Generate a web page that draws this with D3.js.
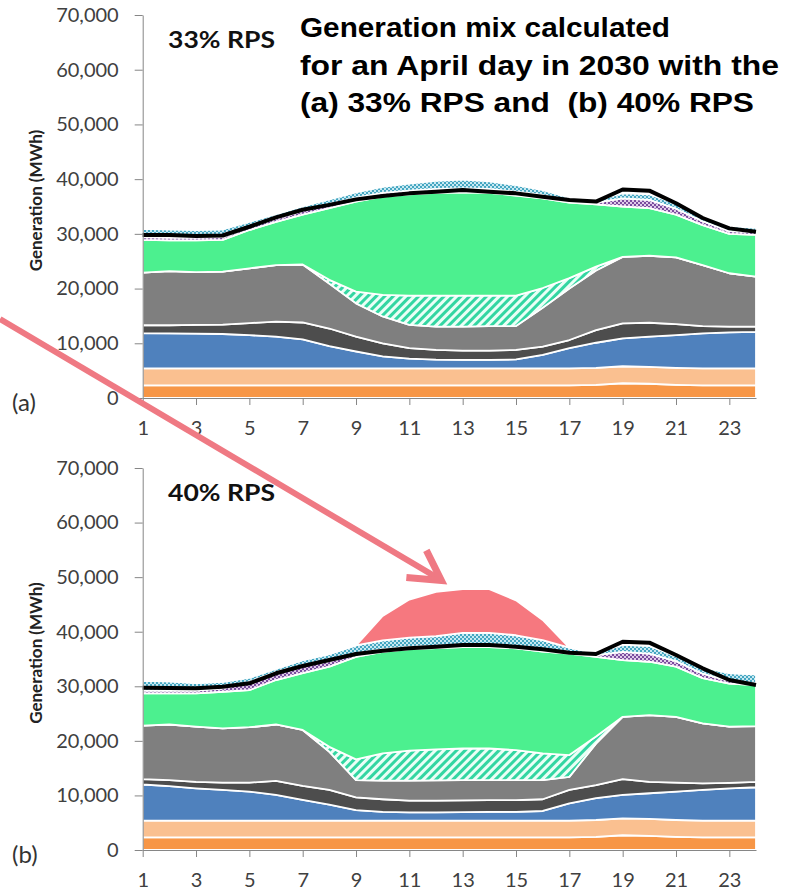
<!DOCTYPE html>
<html>
<head>
<meta charset="utf-8">
<script src="https://cdn.jsdelivr.net/npm/d3@7"></script>
<style>
  html, body { margin: 0; padding: 0; background: #fff; }
  svg { display: block; }
</style>
</head>
<body>
<script>
// Generation mix, April day 2030 — two stacked area panels (33% / 40% RPS)

const hours = [1,2,3,4,5,6,7,8,9,10,11,12,13,14,15,16,17,18,19,20,21,22,23,24];
const yTicks = [0,10000,20000,30000,40000,50000,60000,70000];
const xTicks = [1,3,5,7,9,11,13,15,17,19,21,23];

// ── (a) 33% RPS, MWh per layer, bottom → top ─────────────────
const orange33 = [2300,2300,2300,2300,2300,2300,2300,2300,2300,2300,2300,2300,2300,2300,2300,2300,2300,2400,2700,2600,2400,2300,2300,2300];
const peach33  = [3100,3100,3100,3100,3100,3100,3100,3100,3100,3100,3100,3100,3100,3100,3100,3100,3100,3100,3100,3100,3100,3100,3100,3100];
const blue33   = [6450,6400,6350,6300,6100,5800,5300,4100,3100,2200,1800,1600,1550,1550,1650,2500,3700,4600,5100,5500,6000,6400,6600,6700];
const dkgray33 = [1450,1500,1600,1700,2200,2750,3100,3200,2700,2400,1900,1800,1700,1700,1750,1500,1500,2300,2750,2550,2000,1350,1050,950];
const gray33   = [9600,9900,9650,9700,10000,10350,10600,8200,6100,4900,4250,4250,4400,4500,4350,7100,9400,10900,12150,12250,12200,11150,9750,9150];
const hatch33  = [0,0,0,0,0,0,0,700,2150,3950,5350,5650,5650,5550,5550,3600,1900,700,0,0,0,0,0,0];
const green33  = [6000,5600,5800,5800,7000,7900,9100,13100,16450,17950,18500,18800,18900,18800,18300,16400,13800,11400,9200,8700,7800,7300,7200,7600];
const purple33 = [500,500,500,500,500,600,700,700,700,700,700,700,700,700,700,600,300,300,1500,1500,1100,700,500,500];
const teal33   = [1500,1500,1400,1400,1000,800,800,900,1000,1100,1300,1500,1600,1400,1200,900,600,400,900,1000,900,700,900,800];
const load33   = [29800,29800,29600,29700,31300,33000,34400,35300,36300,36900,37400,37700,38000,37700,37400,36800,36200,35900,38100,37900,35600,32900,31000,30400];

// ── (b) 40% RPS ──────────────────────────────────────────────
const orange40 = [2300,2300,2300,2300,2300,2300,2300,2300,2300,2300,2300,2300,2300,2300,2300,2300,2300,2400,2700,2600,2400,2300,2300,2300];
const peach40  = [3100,3100,3100,3100,3100,3100,3100,3100,3100,3100,3100,3100,3100,3100,3100,3100,3100,3100,3100,3100,3100,3100,3100,3100];
const blue40   = [6600,6300,5900,5600,5300,4700,3800,2900,1900,1600,1500,1500,1550,1600,1600,1750,3150,4000,4300,4700,5200,5600,5900,6100];
const dkgray40 = [1000,1100,1200,1350,1650,2550,2550,2700,2350,2300,2150,2150,2150,2150,2150,2150,2450,2400,2900,2100,1650,1200,1000,1000];
const gray40   = [9800,10200,10100,9950,10150,10350,10250,7000,3150,3400,3650,3700,3700,3650,3650,3500,2400,7600,11400,12200,12050,11000,10300,10200];
const hatch40  = [0,0,0,0,0,0,0,900,3800,5000,5500,5700,5800,5800,5500,4900,4000,1300,0,0,0,0,0,0];
const green40  = [5900,5700,6100,6700,6800,8150,10400,14700,18800,18600,18600,18550,18600,18600,18650,18650,18600,14600,10400,9800,9200,8300,7900,7500];
const purple40 = [500,500,500,600,1500,1500,1400,1000,600,500,400,400,400,400,400,400,300,300,1500,1500,1000,800,500,300];
const teal40   = [1800,1700,1400,1200,800,600,1000,1300,1500,1600,1700,1800,2200,2200,2000,1700,800,400,1300,1400,900,1200,1400,1700];
const red40    = [0,0,0,0,0,0,0,0,0,4500,7000,8100,8000,8000,6400,3700,0,0,0,0,0,0,0,0];
const load40   = [29750,29700,29630,29930,30550,32380,33710,34820,35920,36530,36960,37260,37570,37570,37260,36770,36160,35920,38170,37990,35730,33290,31150,30240];

const titleLines = ['Generation mix calculated', 'for an April day in 2030 with the', '(a) 33% RPS and  (b) 40% RPS'];
const titleWidths = [370, 479, 454];

const FILL = {
  orange: '#f79646', peach: '#fac090', blue: '#4f81bd', dkgray: '#4d4d4d', gray: '#7f7f7f',
  hatch: 'url(#hatchGreen)', green: '#4cf08f', purple: 'url(#dotPurple)', teal: 'url(#dotTeal)', red: '#f6787f'
};
const AXIS = '#868686', LABEL = '#404040';

const svg = d3.select('body').append('svg').attr('width', 800).attr('height', 890);
const defs = svg.append('defs');

// ── Patterns ─────────────────────────────────────────────────
const hp = defs.append('pattern').attr('id', 'hatchGreen').attr('patternUnits', 'userSpaceOnUse')
  .attr('width', 6).attr('height', 6).attr('patternTransform', 'rotate(45)');
hp.append('rect').attr('width', 6).attr('height', 6).attr('fill', '#eafff6');
hp.append('rect').attr('width', 3).attr('height', 6).attr('fill', '#33d6a2');

function dots(id, bg, fg) {
  const p = defs.append('pattern').attr('id', id).attr('patternUnits', 'userSpaceOnUse').attr('width', 4).attr('height', 4);
  p.append('rect').attr('width', 4).attr('height', 4).attr('fill', bg);
  p.append('rect').attr('width', 2).attr('height', 2).attr('fill', fg);
  p.append('rect').attr('x', 2).attr('y', 2).attr('width', 2).attr('height', 2).attr('fill', fg);
}
dots('dotPurple', '#7a4c9e', '#e0cbe9');
dots('dotTeal', '#45a6c1', '#c8e9f2');

// ── One panel ────────────────────────────────────────────────
function drawPanel(p) {
  const x = d3.scaleLinear().domain([1, 24]).range([142.7, 756]);
  const y = d3.scaleLinear().domain([0, 70000]).range([p.bottom, p.top]);
  const keys = Object.keys(p.layers);
  const rows = hours.map((h, i) => {
    const r = { hour: h };
    keys.forEach(k => { r[k] = p.layers[k][i]; });
    return r;
  });
  const series = d3.stack().keys(keys)(rows);
  const g = svg.append('g');

  const area = d3.area().x(d => x(d.data.hour)).y0(d => y(d[0])).y1(d => y(d[1]));
  g.selectAll('.layer').data(series).enter().append('path')
    .attr('d', area)
    .attr('fill', d => FILL[d.key])
    .attr('stroke', '#fff').attr('stroke-width', 1.8).attr('stroke-linejoin', 'round');

  // load line
  g.append('path').datum(p.load)
    .attr('d', d3.line().x((d, i) => x(hours[i])).y(d => y(d)))
    .attr('fill', 'none').attr('stroke', '#000').attr('stroke-width', 4).attr('stroke-linejoin', 'round');

  // axes
  g.append('g').attr('transform', 'translate(142.7,0)')
    .call(d3.axisLeft(y).tickValues(yTicks).tickFormat(d3.format(',')).tickSize(8).tickSizeOuter(0).tickPadding(16))
    .call(a => {
      a.select('.domain').attr('stroke', AXIS);
      a.selectAll('line').attr('stroke', AXIS);
      a.selectAll('text').attr('font-family', 'Lato').attr('font-size', 20).attr('fill', LABEL);
    });
  g.append('g').attr('transform', `translate(0,${p.bottom})`)
    .call(d3.axisBottom(x).tickValues(xTicks).tickSize(7).tickSizeOuter(0).tickPadding(16))
    .call(a => {
      a.select('.domain').attr('stroke', AXIS);
      a.selectAll('line').attr('stroke', AXIS);
      a.selectAll('text').attr('font-family', 'Lato').attr('font-size', 20).attr('fill', LABEL);
    });

  // texts
  const mid = (p.top + p.bottom) / 2 - 6;
  g.append('text').attr('transform', `translate(42,${mid}) rotate(-90)`)
    .attr('text-anchor', 'middle').attr('font-family', 'Lato').attr('font-weight', 700)
    .attr('font-size', 17).attr('fill', '#222').text('Generation (MWh)');
  g.append('text').attr('x', 168).attr('y', p.top + 33)
    .attr('font-family', 'Lato').attr('font-weight', 700).attr('font-size', 23)
    .attr('textLength', 107).attr('lengthAdjust', 'spacingAndGlyphs').attr('fill', '#111').text(p.label);
  g.append('text').attr('x', 12).attr('y', p.bottom + 13)
    .attr('font-family', 'Lato').attr('font-size', 24).attr('fill', '#333').text(p.tag);

  return { x, y };
}

drawPanel({
  top: 15, bottom: 398, label: '33% RPS', tag: '(a)', load: load33,
  layers: { orange: orange33, peach: peach33, blue: blue33, dkgray: dkgray33, gray: gray33,
            hatch: hatch33, green: green33, purple: purple33, teal: teal33 }
});
const pb = drawPanel({
  top: 468, bottom: 850, label: '40% RPS', tag: '(b)', load: load40,
  layers: { orange: orange40, peach: peach40, blue: blue40, dkgray: dkgray40, gray: gray40,
            hatch: hatch40, green: green40, purple: purple40, teal: teal40, red: red40 }
});

// ── Title ────────────────────────────────────────────────────
titleLines.forEach((t, i) => {
  svg.append('text').attr('x', 300).attr('y', 37 + i * 37.5)
    .attr('font-family', 'Liberation Sans, Arial, sans-serif').attr('font-weight', 700)
    .attr('font-size', 27).attr('fill', '#000')
    .attr('textLength', titleWidths[i]).attr('lengthAdjust', 'spacingAndGlyphs')
    .style('white-space', 'pre').text(t);
});

// ── Pink arrow pointing at the curtailed peak ────────────────
const tipX = pb.x(12.2), tipY = pb.y(49400);
const ARROW = '#ef7983';
svg.append('line').attr('x1', 0).attr('y1', 319).attr('x2', tipX - 3).attr('y2', tipY - 2)
  .attr('stroke', ARROW).attr('stroke-width', 6);
svg.append('path')
  .attr('d', `M${tipX - 35},${tipY - 3} L${tipX},${tipY} L${tipX - 15},${tipY - 30}`)
  .attr('fill', 'none').attr('stroke', ARROW).attr('stroke-width', 7).attr('stroke-linejoin', 'miter');
</script>
</body>
</html>
